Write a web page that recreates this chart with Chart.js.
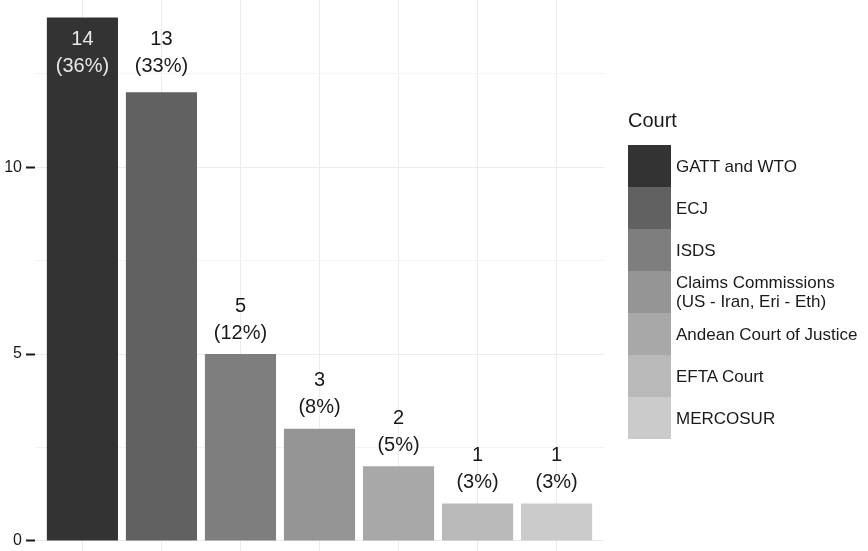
<!DOCTYPE html>
<html>
<head>
<meta charset="utf-8">
<script src="https://cdn.jsdelivr.net/npm/chart.js@4.4.1/dist/chart.umd.min.js"></script>
<style>
  body { margin: 0; background: #fff; font-family: "Liberation Sans", Arial, sans-serif; }
  #wrap { position: relative; width: 868px; height: 551px; }
  #legend { position: absolute; left: 628px; top: 109px; color: #1a1a1a; }
  #legend .title { font-size: 20px; height: 36px; }
  .item { display: flex; align-items: center; height: 42px; }
  .key { width: 43px; height: 42px; margin-right: 5px; flex: none; }
  .lab { font-size: 17px; line-height: 19px; white-space: nowrap; }
</style>
</head>
<body>
<div id="wrap">
  <canvas id="chart" width="868" height="551"></canvas>
  <div id="legend"></div>
</div>
<script>
// data
const courts = ["GATT and WTO", "ECJ", "ISDS", "Claims Commissions\n(US - Iran, Eri - Eth)",
                "Andean Court of Justice", "EFTA Court", "MERCOSUR"];
const barHeights = [14, 12, 5, 3, 2, 1, 1];
const countLabels = ["14", "13", "5", "3", "2", "1", "1"];
const pctLabels = ["(36%)", "(33%)", "(12%)", "(8%)", "(5%)", "(3%)", "(3%)"];
const greys = ["#333333", "#616161", "#7e7e7e", "#959595", "#a8a8a8", "#b9b9b9", "#cbcbcb"];
const yTicks = [0, 5, 10];

// legend (html)
const legend = document.getElementById('legend');
legend.innerHTML = '<div class="title">Court</div>' + courts.map((c, i) =>
    `<div class="item"><div class="key" style="background:${greys[i]}"></div>` +
    `<div class="lab">${c.replace('\n', '<br>')}</div></div>`).join('');

// count + percent labels; the tall ones get pinned near the top
const barLabels = {
    id: 'barLabels',
    afterDatasetsDraw(chart) {
        const ctx = chart.ctx;
        const meta = chart.getDatasetMeta(0);
        const topRow = chart.chartArea.top + 39;
        ctx.save();
        ctx.font = '20px "Liberation Sans", Arial, sans-serif';
        ctx.textAlign = 'center';
        ctx.textBaseline = 'middle';
        meta.data.forEach((bar, i) => {
            let y1 = bar.y - 48;
            if (y1 < topRow + 12) y1 = topRow;
            ctx.fillStyle = y1 > bar.y ? '#e8e8e8' : '#1a1a1a';
            ctx.fillText(countLabels[i], bar.x, y1);
            ctx.fillText(pctLabels[i], bar.x, y1 + 27);
        });
        ctx.restore();
    }
};

const isMajor = v => yTicks.includes(v);

new Chart(document.getElementById('chart'), {
    type: 'bar',
    data: {
        datasets: [{
            data: barHeights.map((v, i) => ({ x: i, y: v })),
            backgroundColor: greys,
            borderWidth: 0,
            barPercentage: 0.9,
            categoryPercentage: 1
        }]
    },
    options: {
        responsive: false,
        animation: false,
        layout: { padding: { left: 0, right: 264, top: 0, bottom: 0 } },
        plugins: { legend: { display: false }, tooltip: { enabled: false } },
        scales: {
            x: {
                type: 'linear',
                min: -0.6,
                max: 6.6,
                offset: false,
                afterFit: s => { s.height = 0; s.paddingLeft = 0; s.paddingRight = 0; },
                ticks: { display: false, stepSize: 1, includeBounds: false },
                border: { display: false },
                grid: { color: '#ebebeb', lineWidth: 1, drawTicks: false, offset: false }
            },
            y: {
                min: -0.27,
                max: 14.47,
                afterFit: s => { s.width = 35; s.paddingTop = 0; s.paddingBottom = 0; },
                border: { display: false },
                ticks: {
                    stepSize: 2.5,
                    includeBounds: false,
                    autoSkip: false,
                    padding: 4,
                    color: '#1a1a1a',
                    font: { family: '"Liberation Sans", Arial, sans-serif', size: 16 },
                    callback: v => isMajor(v) ? String(v) : ''
                },
                grid: {
                    color: c => isMajor(c.tick && c.tick.value) ? '#ebebeb' : '#f4f4f4',
                    lineWidth: 1,
                    tickLength: 9,
                    tickWidth: 2,
                    tickColor: c => isMajor(c.tick && c.tick.value) ? '#1a1a1a' : 'rgba(0,0,0,0)'
                }
            }
        }
    },
    plugins: [barLabels]
});
</script>
</body>
</html>
